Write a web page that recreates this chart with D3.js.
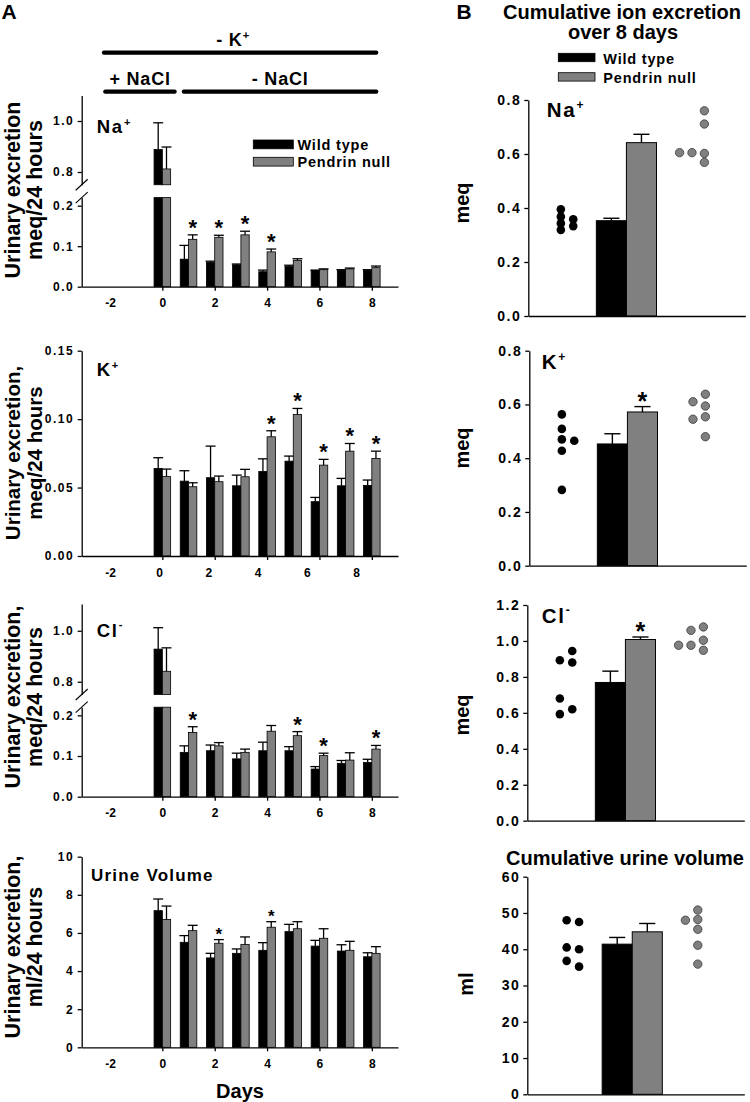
<!DOCTYPE html>
<html><head><meta charset="utf-8">
<script src="https://cdn.jsdelivr.net/npm/d3@7"></script>
<style>
body{margin:0;background:#fff;}
svg text{font-family:"Liberation Sans",Arial,Helvetica,sans-serif;font-weight:bold;fill:#000;}
</style></head><body>
<svg id="fig" width="750" height="1102"></svg>
<script>
// ---------------- DATA ----------------
const days = [0,1,2,3,4,5,6,7,8];
const dayTicks = [0,2,4,6,8];
const dayTickLabels = [-2,0,2,4,6,8];
const seriesNames = ["Wild type","Pendrin null"];

// Panel A: daily excretion (mean, SEM), day 0..8
const naWT    = [0.888,0.068,0.060,0.054,0.037,0.050,0.040,0.040,0.040];
const naWTerr = [0.105,0.034,0.003,0.002,0.004,0.003,0.001,0.002,0.002];
const naPN    = [0.812,0.117,0.122,0.128,0.086,0.065,0.042,0.044,0.047];
const naPNerr = [0.086,0.011,0.005,0.009,0.007,0.004,0.002,0.002,0.004];
const naStars = [1,2,3,4];

const kWT    = [0.0640,0.0547,0.0572,0.0513,0.0618,0.0693,0.0397,0.0513,0.0516];
const kWTerr = [0.0078,0.0076,0.0231,0.0078,0.0092,0.0037,0.0031,0.0054,0.0039];
const kPN    = [0.0580,0.0506,0.0543,0.0579,0.0871,0.1034,0.0664,0.0766,0.0713];
const kPNerr = [0.0055,0.0029,0.0041,0.0054,0.0044,0.0044,0.0042,0.0056,0.0053];
const kStars = [4,5,6,7,8];

const clWT    = [0.928,0.109,0.113,0.093,0.113,0.113,0.068,0.082,0.084];
const clWTerr = [0.084,0.016,0.014,0.014,0.021,0.010,0.006,0.007,0.008];
const clPN    = [0.841,0.158,0.125,0.109,0.161,0.150,0.101,0.090,0.117];
const clPNerr = [0.092,0.014,0.008,0.008,0.014,0.010,0.006,0.018,0.009];
const clStars = [1,5,6,8];

const uvWT    = [7.17,5.51,4.69,4.93,5.09,6.07,5.31,5.05,4.75];
const uvWTerr = [0.61,0.35,0.24,0.23,0.40,0.38,0.30,0.33,0.21];
const uvPN    = [6.71,6.12,5.46,5.40,6.30,6.22,5.72,5.09,4.93];
const uvPNerr = [0.70,0.28,0.19,0.39,0.29,0.37,0.50,0.47,0.35];
const uvStars = [2,4];

// Treatment periods (days)
const periodLabels = ["- K","+ NaCl","- NaCl"];
const periodSup    = ["+","",""];
const periodStart  = [-2.23,-2.18,0.82];
const periodEnd    = [8.17,0.47,8.17];
const periodLabelAt= [2.7,-0.85,4.5];

// Panel B: cumulative over 8 days, mean, SEM, individual animals [column, value]
const cumNaWT = 0.353, cumNaWTerr = 0.009, cumNaPN = 0.642, cumNaPNerr = 0.031;
const cumNaWTdots = [[0,0.395],[0,0.368],[0,0.343],[0,0.319],[1,0.358],[1,0.333]];
const cumNaPNdots = [[0,0.605],[1,0.605],[2,0.760],[2,0.711],[2,0.602],[2,0.569]];

const cumKWT = 0.453, cumKWTerr = 0.038, cumKPN = 0.572, cumKPNerr = 0.020;
const cumKWTdots = [[0,0.563],[0,0.509],[0,0.470],[0,0.428],[0,0.282],[1,0.465]];
const cumKPNdots = [[1,0.610],[1,0.545],[2,0.638],[2,0.594],[2,0.554],[2,0.480]];

const cumClWT = 0.769, cumClWTerr = 0.063, cumClPN = 1.008, cumClPNerr = 0.014;
const cumClWTdots = [[0,0.893],[0,0.680],[0,0.593],[1,0.944],[1,0.880],[1,0.620]];
const cumClPNdots = [[0,0.976],[1,1.059],[1,0.976],[2,1.078],[2,1.004],[2,0.948]];

const cumUvWT = 41.4, cumUvWTerr = 1.85, cumUvPN = 44.8, cumUvPNerr = 2.3;
const cumUvWTdots = [[0,48.0],[0,40.5],[0,36.8],[1,47.5],[1,40.0],[1,35.2]];
const cumUvPNdots = [[0,48.0],[1,50.8],[1,48.2],[1,45.5],[1,41.1],[1,35.9]];

// ---------------- DRAWING ----------------
const BLACK = "#000", GRAY = "#808080";
const svg = d3.select("#fig");
svg.append("rect").attr("width",750).attr("height",1102).attr("fill","#fff");

function supText(sel, base, sup, size, supSize, dy, ls){
  sel.style("font-size", size+"px").style("letter-spacing",(ls||0)+"px").text(base);
  if (sup) sel.append("tspan").attr("dy", dy).style("font-size", supSize+"px").text(sup);
  return sel;
}
function styleAxis(g, size, ls){
  g.attr("font-family", null).attr("font-size", null);
  g.selectAll("path,line").attr("stroke","#000").attr("stroke-width",1.3);
  g.selectAll("text").style("font-size", size+"px").style("letter-spacing", ls+"px");
}

// Panel labels
svg.append("text").attr("x",1.5).attr("y",18.5).style("font-size","21px").text("A");
svg.append("text").attr("x",456.5).attr("y",18.5).style("font-size","21px").text("B");

// ---------- Panel A ----------
const x = d3.scaleLinear().domain([-3.08, 9]).range([81.7, 398]);
const BW = 0.317;      // bar width in days
const CAP = 0.19;      // half cap width in days

// Periods
const periodRowY = [52.7, 91.7];
const periodRow = [0,1,1];
periodLabels.forEach((lab,i)=>{
  const yy = periodRowY[periodRow[i]];
  svg.append("line").attr("x1",x(periodStart[i])).attr("x2",x(periodEnd[i]))
    .attr("y1",yy).attr("y2",yy).attr("stroke","#000").attr("stroke-width",4.2)
    .attr("stroke-linecap","round");
  const t = svg.append("text").attr("x",x(periodLabelAt[i])).attr("y",yy-6.5)
    .attr("text-anchor","middle");
  supText(t, lab, periodSup[i], 18, 11, -7, 0.8);
});

function drawLeft(p){
  const g = svg.append("g");
  const lower = p.lower, upper = p.upper;
  const y0 = lower.range()[0];
  const lowTop = lower.domain()[1];
  const isUp = v => upper && v > lowTop;
  const yOf = v => isUp(v) ? upper(v) : lower(v);

  const series = [
    {vals:p.wt, errs:p.wtErr, off:-1, fill:BLACK},
    {vals:p.pn, errs:p.pnErr, off:0, fill:GRAY}
  ];
  series.forEach(s=>{
    const data = days.map((d,i)=>({d, v:s.vals[i], e:s.errs[i]}));
    g.selectAll(null).data(data).join("rect")
      .attr("x", d=>x(d.d + s.off*BW)).attr("width", x(BW)-x(0))
      .attr("y", d=>lower(Math.min(d.v, lowTop))).attr("height", d=>y0 - lower(Math.min(d.v, lowTop)))
      .attr("fill", s.fill).attr("stroke","#000").attr("stroke-width",0.8);
    if (upper) {
      g.selectAll(null).data(data.filter(d=>isUp(d.v))).join("rect")
        .attr("x", d=>x(d.d + s.off*BW)).attr("width", x(BW)-x(0))
        .attr("y", d=>upper(d.v)).attr("height", d=>upper(upper.domain()[0]) - upper(d.v))
        .attr("fill", s.fill).attr("stroke","#000").attr("stroke-width",0.8);
    }
    const cx = d => d.d + s.off*BW + BW/2;
    g.selectAll(null).data(data).join("line")
      .attr("x1", d=>x(cx(d))).attr("x2", d=>x(cx(d)))
      .attr("y1", d=>yOf(d.v)).attr("y2", d=>yOf(d.v+d.e))
      .attr("stroke","#000").attr("stroke-width",1.3);
    g.selectAll(null).data(data).join("line")
      .attr("x1", d=>x(cx(d)-CAP)).attr("x2", d=>x(cx(d)+CAP))
      .attr("y1", d=>yOf(d.v+d.e)).attr("y2", d=>yOf(d.v+d.e))
      .attr("stroke","#000").attr("stroke-width",1.3);
  });
  g.selectAll(null).data(p.stars).join("text")
    .attr("x", d=>x(d + BW/2)).attr("y", d=>{const i=days.indexOf(d); return yOf(p.pn[i]+p.pnErr[i]) - p.starGap;})
    .attr("text-anchor","middle").style("font-size", p.starSize+"px").text("*");

  const ax = x.range()[0];
  const yl = g.append("g").attr("transform",`translate(${ax},0)`)
    .call(d3.axisLeft(lower).tickValues(p.lowTicks).tickFormat(d3.format(p.fmt)).tickSize(4).tickSizeOuter(0).tickPadding(3.5));
  styleAxis(yl, 12, 1.5);
  if (upper) {
    const yu = g.append("g").attr("transform",`translate(${ax},0)`)
      .call(d3.axisLeft(upper).tickValues(p.upTicks).tickFormat(d3.format(p.fmt)).tickSize(4).tickSizeOuter(0).tickPadding(3.5));
    styleAxis(yu, 12, 1.5);
    [lower(lowTop), upper(upper.domain()[0])].forEach(yy=>{
      g.append("line").attr("x1",ax-6).attr("x2",ax+6).attr("y1",yy+5.5).attr("y2",yy-5.5)
        .attr("stroke","#000").attr("stroke-width",1.1);
    });
  }
  const xa = g.append("g").attr("transform",`translate(0,${y0})`)
    .call(d3.axisBottom(x).tickValues(dayTicks).tickFormat("").tickSize(4).tickSizeOuter(0));
  styleAxis(xa, 12, 0);
  const xl = g.append("g").attr("transform",`translate(0,${y0})`)
    .call(d3.axisBottom(p.labelX || x).tickValues(dayTickLabels).tickFormat(d=>String(d)).tickSize(0).tickPadding(12));
  xl.select(".domain").remove();
  styleAxis(xl, 12, 0);

  const lt = g.append("text").attr("x",p.labelXpos || 96.7).attr("y",p.labelY);
  supText(lt, p.label, p.sup, p.labelSize || 18.5, 11, p.sup==="+"?-7.5:-8.5, p.labelLs===undefined?1.8:p.labelLs);

  [[p.title1, 19.5],[p.title2, 42]].forEach(([t,bx])=>{
    g.append("text").attr("transform",`translate(${bx},${p.titleY}) rotate(-90)`)
      .attr("text-anchor","middle").style("font-size",p.titleSize+"px").text(t);
  });
  return g;
}

// Na
const gNa = drawLeft({
  wt:naWT, wtErr:naWTerr, pn:naPN, pnErr:naPNerr, stars:naStars,
  lower: d3.scaleLinear().domain([0,0.22]).range([286.7, 197.6]),
  upper: d3.scaleLinear().domain([0.75,1.1]).range([184.75, 95.5]),
  lowTicks:[0,0.1,0.2], upTicks:[0.8,1.0], fmt:".1f",
  label:"Na", sup:"+", labelY:133,
  title1:"Urinary excretion", title2:"meq/24 hours", titleY:190, titleSize:21.5,
  starSize:22, starGap:0
});
const legY = [140, 157.3];
[BLACK, GRAY].forEach((c,i)=>{
  gNa.append("rect").attr("x",253.3).attr("y",legY[i]).attr("width",40).attr("height",8.8)
    .attr("fill",c).attr("stroke","#000").attr("stroke-width",0.8);
  gNa.append("text").attr("x",297.5).attr("y",legY[i]+9.5).style("font-size","14.5px")
    .style("letter-spacing","0.8px").text(seriesNames[i]);
});

// K
drawLeft({
  wt:kWT, wtErr:kWTerr, pn:kPN, pnErr:kPNerr, stars:kStars,
  lower: d3.scaleLinear().domain([0,0.15]).range([556, 350.7]),
  upper: null,
  lowTicks:[0,0.05,0.10,0.15], fmt:".2f",
  labelX: d3.scaleLinear().domain([-2,8]).range([110,356]),
  label:"K", sup:"+", labelY:376,
  title1:"Urinary excretion,", title2:"meq/24 hours", titleY:453, titleSize:20.5,
  starSize:22, starGap:0
});

// Cl
drawLeft({
  wt:clWT, wtErr:clWTerr, pn:clPN, pnErr:clPNerr, stars:clStars,
  lower: d3.scaleLinear().domain([0,0.22]).range([796.7, 707.2]),
  upper: d3.scaleLinear().domain([0.75,1.105]).range([694.5, 604]),
  lowTicks:[0,0.1,0.2], upTicks:[0.8,1.0], fmt:".1f",
  label:"Cl", sup:"-", labelY:636.7,
  title1:"Urinary excretion,", title2:"meq/24 hours", titleY:697, titleSize:21.5,
  starSize:22, starGap:0
});

// Urine volume
drawLeft({
  wt:uvWT, wtErr:uvWTerr, pn:uvPN, pnErr:uvPNerr, stars:uvStars,
  lower: d3.scaleLinear().domain([0,10]).range([1047.3, 856.7]),
  upper: null,
  lowTicks:[0,2,4,6,8,10], fmt:"d",
  label:"Urine Volume", sup:"", labelY:880.5, labelXpos:91, labelSize:17, labelLs:1.2,
  title1:"Urinary excretion,", title2:"ml/24 hours", titleY:947, titleSize:21.5,
  starSize:17, starGap:0
});
svg.append("text").attr("x",240).attr("y",1098.3).attr("text-anchor","middle")
  .style("font-size","20px").text("Days");

// ---------- Panel B ----------
svg.append("text").attr("x",622).attr("y",18.5).attr("text-anchor","middle").style("font-size","20px").text("Cumulative ion excretion");
svg.append("text").attr("x",623).attr("y",38.5).attr("text-anchor","middle").style("font-size","20px").text("over 8 days");
const legBY = [53.3, 72.7];
[BLACK, GRAY].forEach((c,i)=>{
  svg.append("rect").attr("x",558.3).attr("y",legBY[i]).attr("width",36.7).attr("height",8.4)
    .attr("fill",c).attr("stroke","#000").attr("stroke-width",0.8);
  svg.append("text").attr("x",603.3).attr("y",legBY[i]+10.2).style("font-size","14.5px")
    .style("letter-spacing","0.8px").text(seriesNames[i]);
});

function drawRight(p){
  const g = svg.append("g");
  const xb = d3.scaleLinear().domain([0,7]).range([p.ax, p.ax+217]);
  const y = d3.scaleLinear().domain([0,p.ymax]).range([p.y0, p.ytop]);
  const s = p.shift || 0;
  const bw = 0.97, cap = 0.26;
  const bars = [
    {v:p.wt, e:p.wtErr, c:2.68+s, fill:BLACK},
    {v:p.pn, e:p.pnErr, c:3.65+s, fill:GRAY}
  ];
  g.selectAll(null).data(bars).join("rect")
    .attr("x", d=>xb(d.c-bw/2)).attr("width", xb(bw)-xb(0))
    .attr("y", d=>y(d.v)).attr("height", d=>y(0)-y(d.v))
    .attr("fill", d=>d.fill).attr("stroke","#000").attr("stroke-width",1);
  g.selectAll(null).data(bars).join("line")
    .attr("x1", d=>xb(d.c)).attr("x2", d=>xb(d.c)).attr("y1", d=>y(d.v)).attr("y2", d=>y(d.v+d.e))
    .attr("stroke","#000").attr("stroke-width",1.4);
  g.selectAll(null).data(bars).join("line")
    .attr("x1", d=>xb(d.c-cap)).attr("x2", d=>xb(d.c+cap)).attr("y1", d=>y(d.v+d.e)).attr("y2", d=>y(d.v+d.e))
    .attr("stroke","#000").attr("stroke-width",1.4);
  if (p.star) {
    g.append("text").attr("x", xb(3.65+s)).attr("y", y(p.pn+p.pnErr)+3)
      .attr("text-anchor","middle").style("font-size","25px").text("*");
  }
  g.selectAll(null).data(p.wtDots).join("circle")
    .attr("cx", d=>xb(1.05 + 0.4*d[0] + s)).attr("cy", d=>y(d[1])).attr("r",4.3)
    .attr("fill",BLACK);
  g.selectAll(null).data(p.pnDots).join("circle")
    .attr("cx", d=>xb(4.88 + 0.4*d[0] + s)).attr("cy", d=>y(d[1])).attr("r",4.2)
    .attr("fill",GRAY).attr("stroke","#3a3a3a").attr("stroke-width",0.8);
  const ya = g.append("g").attr("transform",`translate(${p.ax},0)`)
    .call(d3.axisLeft(y).tickValues(p.ticks).tickFormat(d3.format(p.fmt)).tickSize(4).tickSizeOuter(0).tickPadding(3));
  styleAxis(ya, 14, 1.5);
  const xa = g.append("g").attr("transform",`translate(0,${p.y0})`)
    .call(d3.axisBottom(xb).tickValues([]).tickSizeOuter(0));
  styleAxis(xa, 12, 0);
  if (p.label) {
    const lt = g.append("text").attr("x",p.labelX).attr("y",p.labelY);
    supText(lt, p.label, p.sup, 20.5, 12, p.sup==="+"?-8:-9, 1.8);
  }
  g.append("text").attr("transform",`translate(${p.titleX},${p.titleY}) rotate(-90)`)
    .attr("text-anchor","middle").style("font-size","20px").text(p.title);
}

drawRight({ax:528.3, y0:316, ytop:100, ymax:0.8, ticks:[0,0.2,0.4,0.6,0.8], fmt:".1f",
  wt:cumNaWT, wtErr:cumNaWTerr, pn:cumNaPN, pnErr:cumNaPNerr, wtDots:cumNaWTdots, pnDots:cumNaPNdots,
  star:false, label:"Na", sup:"+", labelX:546.7, labelY:116.7, title:"meq", titleX:468.7, titleY:203});
drawRight({ax:529.3, y0:565.7, ytop:350.7, ymax:0.8, ticks:[0,0.2,0.4,0.6,0.8], fmt:".1f",
  wt:cumKWT, wtErr:cumKWTerr, pn:cumKPN, pnErr:cumKPNerr, wtDots:cumKWTdots, pnDots:cumKPNdots,
  star:true, label:"K", sup:"+", labelX:541.7, labelY:369, title:"meq", titleX:468.7, titleY:448});
drawRight({ax:527.3, y0:820.7, ytop:605, ymax:1.2, ticks:[0,0.2,0.4,0.6,0.8,1.0,1.2], fmt:".1f",
  wt:cumClWT, wtErr:cumClWTerr, pn:cumClPN, pnErr:cumClPNerr, wtDots:cumClWTdots, pnDots:cumClPNdots,
  star:true, label:"Cl", sup:"-", labelX:541.7, labelY:623.3, title:"meq", titleX:468.7, titleY:715});
drawRight({ax:527.3, y0:1094.3, ytop:876.7, ymax:60, ticks:[0,10,20,30,40,50,60], fmt:"d", shift:0.22,
  wt:cumUvWT, wtErr:cumUvWTerr, pn:cumUvPN, pnErr:cumUvPNerr, wtDots:cumUvWTdots, pnDots:cumUvPNdots,
  star:false, label:null, title:"ml", titleX:473, titleY:984});
svg.append("text").attr("x",625).attr("y",865).attr("text-anchor","middle").style("font-size","20px").text("Cumulative urine volume");
</script>
</body></html>
